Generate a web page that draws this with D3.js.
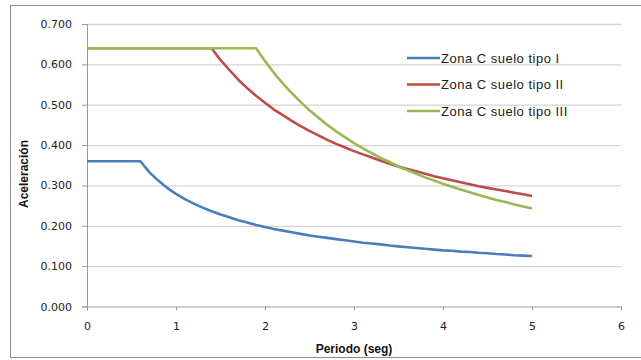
<!DOCTYPE html>
<html lang="es">
<head>
<meta charset="utf-8">
<title>Espectro de diseño - Zona C</title>
<script src="https://cdn.jsdelivr.net/npm/d3@7"></script>
<style>
    body { margin: 0; background: #fff; }
    .axis text { font-family: "DejaVu Sans", Verdana, sans-serif; font-size: 11px; fill: #222; }
    .axis path, .axis line { stroke: #9a9a9a; }
    .grid line { stroke: #d4d4d4; stroke-width: 1.3px; }
    .grid path { display: none; }
    .title { font-family: "Liberation Sans", Arial, sans-serif; font-weight: bold; font-size: 12px; fill: #111; }
    .legend text { font-family: "Liberation Sans", Arial, sans-serif; font-size: 13px; letter-spacing: 0.5px; fill: #222; }
</style>
</head>
<body>
<script>
// periodos (seg)
const periods = [0, 0.1, 0.2, 0.3, 0.4, 0.5, 0.6, 0.7, 0.8, 0.9,
    1.0, 1.1, 1.2, 1.3, 1.4, 1.5, 1.6, 1.7, 1.8, 1.9,
    2.0, 2.1, 2.2, 2.3, 2.4, 2.5, 2.6, 2.7, 2.8, 2.9,
    3.0, 3.1, 3.2, 3.3, 3.4, 3.5, 3.6, 3.7, 3.8, 3.9,
    4.0, 4.1, 4.2, 4.3, 4.4, 4.5, 4.6, 4.7, 4.8, 4.9, 5.0];

const tipoI = [0.360, 0.360, 0.360, 0.360, 0.360, 0.360, 0.360, 0.333, 0.312, 0.294,
    0.279, 0.266, 0.255, 0.245, 0.236, 0.228, 0.221, 0.214, 0.208, 0.202,
    0.197, 0.192, 0.188, 0.184, 0.180, 0.176, 0.173, 0.170, 0.167, 0.164,
    0.161, 0.158, 0.156, 0.154, 0.151, 0.149, 0.147, 0.145, 0.143, 0.141,
    0.139, 0.138, 0.136, 0.135, 0.133, 0.132, 0.130, 0.129, 0.127, 0.126, 0.125];

const tipoII = [0.640, 0.640, 0.640, 0.640, 0.640, 0.640, 0.640, 0.640, 0.640, 0.640,
    0.640, 0.640, 0.640, 0.640, 0.640, 0.611, 0.586, 0.562, 0.541, 0.522,
    0.505, 0.488, 0.474, 0.460, 0.447, 0.435, 0.424, 0.413, 0.403, 0.394,
    0.385, 0.377, 0.369, 0.361, 0.354, 0.347, 0.341, 0.335, 0.329, 0.323,
    0.318, 0.313, 0.308, 0.303, 0.298, 0.294, 0.290, 0.286, 0.282, 0.278, 0.274];

const tipoIII = [0.640, 0.640, 0.640, 0.640, 0.640, 0.640, 0.640, 0.640, 0.640, 0.640,
    0.640, 0.640, 0.640, 0.640, 0.640, 0.640, 0.640, 0.640, 0.640, 0.640,
    0.608, 0.579, 0.553, 0.529, 0.507, 0.486, 0.468, 0.450, 0.434, 0.419,
    0.405, 0.392, 0.380, 0.368, 0.358, 0.347, 0.338, 0.329, 0.320, 0.312,
    0.304, 0.297, 0.290, 0.283, 0.276, 0.270, 0.264, 0.259, 0.253, 0.248, 0.243];

const seriesNames = ["Zona C suelo tipo I", "Zona C suelo tipo II", "Zona C suelo tipo III"];
const seriesColors = ["#4a7ebb", "#be4b48", "#98b954"];
const xTicks = [0, 1, 2, 3, 4, 5, 6];
const yTicks = [0, 0.1, 0.2, 0.3, 0.4, 0.5, 0.6, 0.7];

const width = 641, height = 360;
const plot = { left: 87, right: 621, top: 24, bottom: 306.5 };

const svg = d3.select("body").append("svg")
    .attr("width", width)
    .attr("height", height);

// chart frame
svg.append("rect")
    .attr("x", 10.5).attr("y", 5.5)
    .attr("width", 640).attr("height", 352)
    .attr("fill", "none")
    .attr("stroke", "#8c8c8c")
    .attr("stroke-width", 1);

const x = d3.scaleLinear().domain([0, 6]).range([plot.left, plot.right]);
const y = d3.scaleLinear().domain([0, 0.7]).range([plot.bottom, plot.top]);

// horizontal gridlines
svg.append("g")
    .attr("class", "grid")
    .attr("transform", `translate(${plot.left},0)`)
    .call(d3.axisLeft(y).tickValues(yTicks.slice(1)).tickSize(-(plot.right - plot.left)).tickFormat(""));

// axes
svg.append("g")
    .attr("class", "axis")
    .attr("transform", `translate(0,${plot.bottom})`)
    .call(d3.axisBottom(x).tickValues(xTicks).tickFormat(d3.format("d")).tickSizeOuter(0).tickSize(4).tickPadding(12));

svg.append("g")
    .attr("class", "axis")
    .attr("transform", `translate(${plot.left},0)`)
    .call(d3.axisLeft(y).tickValues(yTicks).tickFormat(d3.format(".3f")).tickSizeOuter(0).tickSize(5).tickPadding(10));

// lines
const series = [tipoI, tipoII, tipoIII];
const line = d3.line()
    .x((d, i) => x(periods[i]))
    .y(d => y(d));

svg.append("g")
    .selectAll("path")
    .data(series)
    .join("path")
        .attr("d", d => line(d))
        .attr("fill", "none")
        .attr("stroke", (d, i) => seriesColors[i])
        .attr("stroke-width", 2.6)
        .attr("stroke-linejoin", "round");

// axis titles
svg.append("text")
    .attr("class", "title")
    .attr("text-anchor", "middle")
    .attr("transform", "translate(28,174) rotate(-90)")
    .text("Aceleración");

svg.append("text")
    .attr("class", "title")
    .attr("text-anchor", "middle")
    .attr("x", 354).attr("y", 353)
    .text("Periodo (seg)");

// legend
const legend = svg.append("g")
    .attr("class", "legend")
    .selectAll("g")
    .data(seriesNames)
    .join("g")
        .attr("transform", (d, i) => `translate(407,${58 + i * 26.5})`);

legend.append("line")
    .attr("x1", 0).attr("x2", 33)
    .attr("stroke", (d, i) => seriesColors[i])
    .attr("stroke-width", 2.6);

legend.append("text")
    .attr("x", 34).attr("y", 4.5)
    .text(d => d);
</script>
</body>
</html>
